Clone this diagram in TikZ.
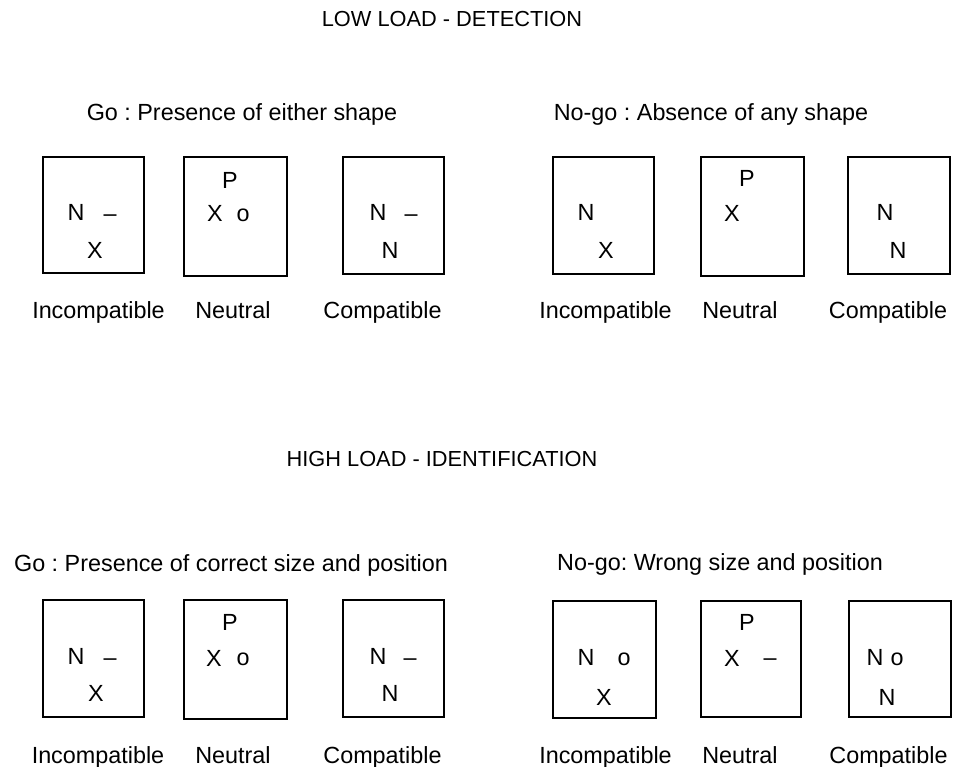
\documentclass[tikz,border=0pt]{standalone}
\usepackage{fontspec}
\setmainfont{Liberation Sans}
\frenchspacing
\tikzset{
  lbl/.style={font=\fontsize{13.3}{16}\selectfont, inner sep=0pt, text height=9.6pt, text depth=0pt},
  ttl/.style={font=\fontsize{12.4}{15}\selectfont, inner sep=0pt, text height=8.9pt, text depth=0pt},
  card/.style={draw, line width=0.9pt},
}
\begin{document}
\begin{tikzpicture}[x=0.02cm, y=-0.02cm]
\useasboundingbox (0,0) rectangle (953,767);

% ---------- LOW LOAD ----------
\node[ttl] (t1) at (452,19) {LOW LOAD - DETECTION};
\node[lbl] (go1) at (242,112) {Go : Presence of either shape};
\node[lbl] (ng1) at (711,112) {No-go : Absence of any shape};

\draw[card] (43,157) rectangle (144,273);
\draw[card] (184,157) rectangle (287,276);
\draw[card] (343,157) rectangle (444,274);
\draw[card] (553,157) rectangle (654,274);
\draw[card] (701,157) rectangle (804,276);
\draw[card] (848,157) rectangle (950,274);

\node[lbl] (a1n) at (76,212) {N};
\node[lbl] (a1d) at (110,213) {–};
\node[lbl] (a1x) at (95,250) {X};

\node[lbl] (a2p) at (230,180) {P};
\node[lbl] (a2x) at (215,213) {X};
\node[lbl] (a2o) at (243,213) {o};

\node[lbl] (a3n) at (378,212) {N};
\node[lbl] (a3d) at (411,213) {–};
\node[lbl] (a3m) at (390,250) {N};

\node[lbl] (a4n) at (586,212) {N};
\node[lbl] (a4x) at (606,250) {X};

\node[lbl] (a5p) at (747,178) {P};
\node[lbl] (a5x) at (732,213) {X};

\node[lbl] (a6n) at (885,212) {N};
\node[lbl] (a6m) at (898,250) {N};

\node[lbl] (l1) at (98.5,310) {Incompatible};
\node[lbl] (l2) at (233,310) {Neutral};
\node[lbl] (l3) at (382.5,310) {Compatible};
\node[lbl] (l4) at (605.5,310) {Incompatible};
\node[lbl] (l5) at (740,310) {Neutral};
\node[lbl] (l6) at (888,310) {Compatible};

% ---------- HIGH LOAD ----------
\node[ttl] (t2) at (442,459) {HIGH LOAD - IDENTIFICATION};
\node[lbl] (go2) at (231,563) {Go : Presence of correct size and position};
\node[lbl] (ng2) at (720,562) {No-go: Wrong size and position};

\draw[card] (43,600) rectangle (144,717);
\draw[card] (184,600) rectangle (287,719);
\draw[card] (343,600) rectangle (444,717);
\draw[card] (553,601) rectangle (656,718);
\draw[card] (701,601) rectangle (801,717);
\draw[card] (849,601) rectangle (951,717);

\node[lbl] (b1n) at (76,656) {N};
\node[lbl] (b1d) at (110,657) {–};
\node[lbl] (b1x) at (96,693) {X};

\node[lbl] (b2p) at (230,622) {P};
\node[lbl] (b2x) at (214,658) {X};
\node[lbl] (b2o) at (243,657) {o};

\node[lbl] (b3n) at (378,656) {N};
\node[lbl] (b3d) at (410,657) {–};
\node[lbl] (b3m) at (390,693) {N};

\node[lbl] (b4n) at (586,657) {N};
\node[lbl] (b4o) at (624,657) {o};
\node[lbl] (b4x) at (604,697) {X};

\node[lbl] (b5p) at (747,622) {P};
\node[lbl] (b5x) at (732,658) {X};
\node[lbl] (b5d) at (770,657) {–};

\node[lbl] (b6n) at (875,657) {N};
\node[lbl] (b6o) at (897,657) {o};
\node[lbl] (b6m) at (887,697) {N};

\node[lbl] (m1) at (98,755) {Incompatible};
\node[lbl] (m2) at (233,755) {Neutral};
\node[lbl] (m3) at (382.5,755) {Compatible};
\node[lbl] (m4) at (605.5,755) {Incompatible};
\node[lbl] (m5) at (740,755) {Neutral};
\node[lbl] (m6) at (888.5,755) {Compatible};
\end{tikzpicture}
\end{document}
